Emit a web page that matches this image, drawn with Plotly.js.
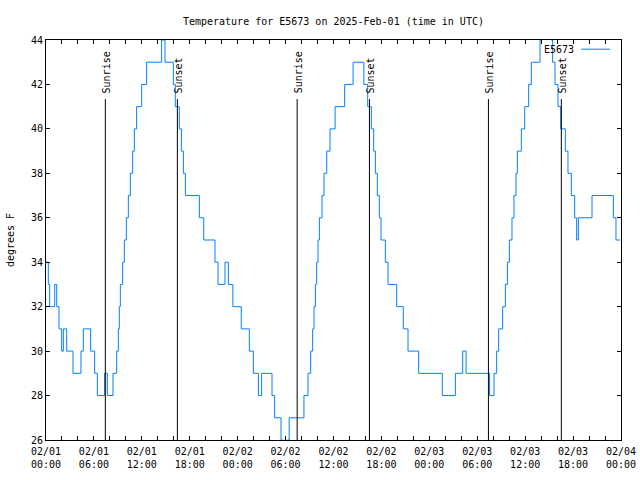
<!DOCTYPE html>
<html>
<head>
<meta charset="utf-8">
<script src="https://cdn.plot.ly/plotly-3.0.1.min.js"></script>
<style>
  html, body { margin: 0; padding: 0; background: #ffffff; }
  #chart { width: 640px; height: 480px; }
</style>
</head>
<body>
<div id="chart"></div>
<script>
// ---- data ----
const startDate = '2025-02-01T00:00:00Z';
const stationName = 'E5673';

// hours after 2025-02-01 00:00 UTC at which the reading changed
const changeHours = [
  0.0, 0.29, 0.46, 1.09, 1.34, 1.63, 1.96, 2.17, 2.59, 3.38,
  4.38, 4.67, 5.59, 6.09, 6.43, 7.34, 7.68, 8.39, 8.85, 9.06,
  9.18, 9.31, 9.6, 9.81, 10.06, 10.31, 10.56, 10.85, 11.06, 11.35,
  11.98, 12.6, 14.48, 14.9, 15.94, 16.19, 16.69, 16.95, 17.2, 17.45,
  19.2, 19.75, 21.16, 21.54, 22.41, 22.83, 23.4, 24.45, 25.46, 25.96,
  26.6, 27.0, 28.3, 28.63, 29.43, 29.7, 30.2, 30.45, 32.3, 32.81,
  33.14, 33.39, 33.56, 33.73, 33.89, 34.06, 34.23, 34.56, 34.81, 35.15,
  35.56, 36.2, 37.4, 38.45, 39.8, 40.28, 40.74, 41.03, 41.24, 41.49,
  41.74, 41.95, 42.49, 42.83, 43.91, 44.74, 45.33, 46.67, 49.62, 51.26,
  52.18, 52.6, 55.55, 56.1, 56.43, 56.68, 57.18, 57.52, 57.77, 58.02,
  58.35, 58.6, 58.85, 59.02, 59.52, 59.94, 60.44, 60.77, 61.86, 62.0,
  63.28, 63.44, 63.74, 64.11, 64.45, 65.03, 65.36, 65.78, 66.2, 66.45,
  66.66, 68.37, 71.04, 71.37, 71.87
];
// temperature (degrees F) from each change time on
const changeTemps = [
  34, 33, 32, 33, 32, 31, 30, 31, 30, 29,
  30, 31, 30, 29, 28, 29, 28, 29, 30, 31,
  32, 33, 34, 35, 36, 37, 38, 39, 40, 41,
  42, 43, 44, 43, 42, 41, 40, 39, 38, 37,
  36, 35, 34, 33, 34, 33, 32, 31, 30, 29,
  28, 29, 28, 27, 26, 25, 26, 27, 28, 29,
  30, 31, 32, 33, 34, 35, 36, 37, 38, 39,
  40, 41, 42, 43, 42, 41, 40, 39, 38, 37,
  36, 35, 34, 33, 32, 31, 30, 29, 28, 29,
  30, 29, 28, 29, 30, 31, 32, 33, 34, 35,
  36, 37, 38, 39, 40, 41, 42, 43, 44, 45,
  44, 43, 42, 41, 40, 39, 38, 37, 36, 35,
  36, 37, 36, 35, 35
];

// sun events, hours after 2025-02-01 00:00 UTC
const sunriseHours = [7.43, 31.45, 55.4];
const sunsetHours = [16.45, 40.5, 64.53];
const sunMarkerTop = 41.34; // degrees F, top of the sun event lines

const yTicks = [26, 28, 30, 32, 34, 36, 38, 40, 42, 44];

// ---- helpers ----
const baseMs = Date.parse(startDate);
function hourToStr(h) {
  return new Date(baseMs + h * 3600000).toISOString().replace('T', ' ').slice(0, 19);
}
const xs = changeHours.map(hourToStr);

const FONT = 'DejaVu Sans Mono, Liberation Mono, monospace';

const trace = {
  x: xs,
  y: changeTemps,
  type: 'scatter',
  mode: 'lines',
  line: { color: '#0080ff', width: 1, shape: 'hv' },
  name: stationName,
  showlegend: false,
  hoverinfo: 'skip'
};

const shapes = [];
const annotations = [];
function addEvent(h, label) {
  shapes.push({
    type: 'line', xref: 'x', yref: 'y',
    x0: hourToStr(h), x1: hourToStr(h), y0: yTicks[0], y1: sunMarkerTop,
    line: { color: '#000000', width: 1 }
  });
  annotations.push({
    xref: 'x', yref: 'y', x: hourToStr(h), y: sunMarkerTop,
    text: label, textangle: -90, showarrow: false,
    xanchor: 'center', yanchor: 'bottom', yshift: 5, xshift: 1,
    borderpad: 0,
    font: { family: FONT, size: 10, color: '#000000' }
  });
}
sunriseHours.forEach(h => addEvent(h, 'Sunrise'));
sunsetHours.forEach(h => addEvent(h, 'Sunset'));

// gnuplot-style key: text then line sample on the right
annotations.push({
  xref: 'paper', yref: 'paper', x: 0.92, y: 0.977,
  text: stationName, showarrow: false, xanchor: 'right', yanchor: 'middle',
  borderpad: 0,
  font: { family: FONT, size: 10, color: '#000000' }
});
shapes.push({
  type: 'line', xref: 'paper', yref: 'paper',
  x0: 0.931, x1: 0.981, y0: 0.977, y1: 0.977,
  line: { color: '#0080ff', width: 1 }
});

const layout = {
  width: 640, height: 480,
  margin: { l: 46, r: 19, t: 40, b: 40 },
  paper_bgcolor: '#ffffff', plot_bgcolor: '#ffffff',
  font: { family: FONT, size: 10, color: '#000000' },
  title: {
    text: 'Temperature for ' + stationName + ' on 2025-Feb-01 (time in UTC)',
    font: { family: FONT, size: 10, color: '#000000' },
    x: 0.521, xanchor: 'center', y: 0.956, yanchor: 'middle'
  },
  xaxis: {
    type: 'date',
    range: [hourToStr(0), hourToStr(72)],
    tick0: hourToStr(0), dtick: 6 * 3600000,
    tickformat: '%m/%d<br>%H:%M',
    ticks: 'inside', ticklen: 4, tickcolor: '#000000', tickwidth: 1,
    minor: { dtick: 2 * 3600000, ticks: 'inside', ticklen: 4, tickcolor: '#000000', tickwidth: 1, showgrid: false },
    showline: true, linecolor: '#000000', linewidth: 1, mirror: 'ticks',
    showgrid: false, zeroline: false,
    tickfont: { family: FONT, size: 10, color: '#000000' },
    ticklabelstandoff: 2,
    fixedrange: true
  },
  yaxis: {
    range: [yTicks[0], yTicks[yTicks.length - 1]],
    tickvals: yTicks,
    ticktext: yTicks.map(String),
    ticks: 'inside', ticklen: 4, tickcolor: '#000000', tickwidth: 1,
    showline: true, linecolor: '#000000', linewidth: 1, mirror: 'ticks',
    showgrid: false, zeroline: false,
    tickfont: { family: FONT, size: 10, color: '#000000' },
    title: { text: 'degrees F', font: { family: FONT, size: 10, color: '#000000' }, standoff: 14 },
    fixedrange: true
  },
  shapes: shapes,
  annotations: annotations,
  showlegend: false
};

Plotly.newPlot('chart', [trace], layout, { displayModeBar: false, staticPlot: true });
</script>
</body>
</html>
